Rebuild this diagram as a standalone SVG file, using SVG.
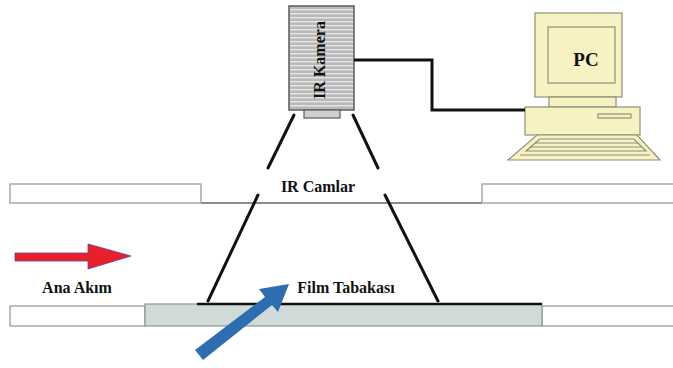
<svg xmlns="http://www.w3.org/2000/svg" width="673" height="368" viewBox="0 0 673 368">
  <defs>
    <pattern id="stripes" width="8" height="4" patternUnits="userSpaceOnUse">
      <rect width="8" height="4" fill="#b9b9b9"/>
      <rect y="1" width="8" height="1.4" fill="#e6e6e6"/>
    </pattern>
    <style>
      .lbl { font-family: "Liberation Serif", "Times New Roman", serif; font-weight: bold; font-size: 16px; fill: #111; }
      .panel { fill: #fff; stroke: #a9a9a9; stroke-width: 1.5; }
      .cone { stroke: #111; stroke-width: 3; stroke-linecap: round; fill: none; }
      .pc { fill: #f6f2c2; stroke: #8f8f78; stroke-width: 1.2; }
    </style>
  </defs>
  <rect width="673" height="368" fill="#fff"/>

  <!-- upper channel with IR window -->
  <g id="upper-channel">
    <rect class="panel" x="10" y="184" width="191" height="19"/>
    <rect class="panel" x="482" y="184" width="195" height="19"/>
    <line x1="201" y1="203" x2="482" y2="203" stroke="#8a8a8a" stroke-width="2.2"/>
  </g>

  <!-- lower channel with film layer plate -->
  <g id="lower-channel">
    <rect class="panel" x="10" y="306" width="135" height="20"/>
    <rect class="panel" x="542" y="306" width="135" height="20"/>
    <rect x="145" y="304" width="397" height="22" fill="#cfdad9" stroke="#8f9494" stroke-width="1.2"/>
    <line x1="197" y1="304" x2="542" y2="304" stroke="#111" stroke-width="2.5"/>
  </g>

  <!-- camera -->
  <g id="camera">
    <rect x="289" y="6" width="65" height="104" fill="url(#stripes)" stroke="#5a5a5a" stroke-width="1.5"/>
    <rect x="304" y="110" width="36" height="8" fill="#cfcfcf" stroke="#5a5a5a" stroke-width="1.2"/>
    <text class="lbl" transform="translate(325,60) rotate(-90)" text-anchor="middle">IR Kamera</text>
  </g>

  <!-- computer -->
  <g id="pc">
    <rect class="pc" x="535" y="13" width="87" height="84"/>
    <rect class="pc" x="548" y="27" width="67" height="56"/>
    <rect class="pc" x="549" y="97" width="67" height="10"/>
    <rect class="pc" x="525" y="107" width="115" height="28"/>
    <rect class="pc" x="598" y="114" width="33" height="4"/>
    <polygon class="pc" points="537,135 637,135 660,160 508,160"/>
    <polyline class="pc" fill="none" points="540,139 634,139 646,151 526,151 540,139"/>
    <line x1="535" y1="143" x2="638" y2="143" stroke="#8f8f78" stroke-width="1"/>
    <line x1="530" y1="147" x2="642" y2="147" stroke="#8f8f78" stroke-width="1"/>
    <line x1="520" y1="155" x2="650" y2="155" stroke="#8f8f78" stroke-width="1"/>
    <text class="lbl" x="586" y="66" text-anchor="middle" style="font-size:19px">PC</text>
  </g>

  <!-- connectors -->
  <g id="connectors">
    <polyline points="354,60 432,60 432,110 525,110" fill="none" stroke="#111" stroke-width="3"/>
    <line class="cone" x1="294" y1="115" x2="268" y2="168"/>
    <line class="cone" x1="353" y1="115" x2="378" y2="168"/>
    <line class="cone" x1="258" y1="195" x2="208" y2="301"/>
    <line class="cone" x1="385" y1="195" x2="438" y2="301"/>
  </g>

  <!-- flow arrows -->
  <g id="main-flow-arrow">
    <polygon points="15,253 88,253 88,244 131,256 88,269 88,261 15,261" fill="#e8202a" stroke="#6a3aa0" stroke-width="0.8"/>
  </g>
  <g id="film-arrow">
    <polygon points="195,350 265,297 259,289 289,284 278,312 272,305 203,360" fill="#2f6db3"/>
  </g>

  <!-- labels -->
  <text class="lbl" x="318" y="192" text-anchor="middle">IR Camlar</text>
  <text class="lbl" x="346" y="293" text-anchor="middle">Film Tabakası</text>
  <text class="lbl" x="77" y="293" text-anchor="middle">Ana Akım</text>
</svg>
